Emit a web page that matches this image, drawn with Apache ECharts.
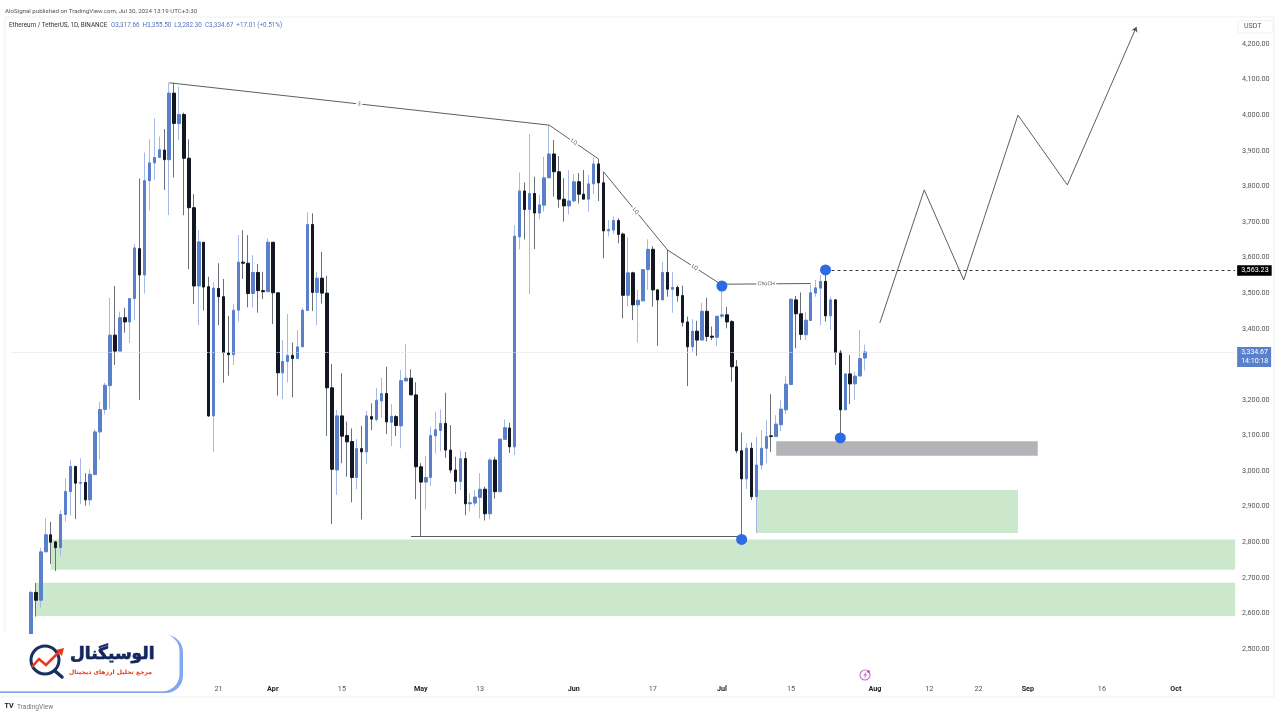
<!DOCTYPE html>
<html>
<head>
<meta charset="utf-8">
<style>html,body{margin:0;padding:0;background:#fff}#c{width:1280px;height:720px}</style>
<script src="https://cdn.jsdelivr.net/npm/echarts@6/dist/echarts.min.js"></script>
</head>
<body>
<div id="c"></div>
<script>
const leadingBlankDays = 4;
const opens = [2507,2659,2637,2773,2821,2801,2785,2878,2942,3013,
2966,2968,2919,2990,3110,3173,3240,3382,3337,3431,
3419,3485,3625,3551,3816,3866,3881,3902,3875,4062,
3976,4002,3879,3740,3520,3643,3518,3155,3513,3490,
3333,3327,3452,3587,3584,3499,3558,3507,3504,3643,
3501,3276,3308,3325,3316,3349,3451,3693,3502,3542,
3500,3234,3003,3155,3100,3083,2982,3063,3054,3153,
3145,3197,3218,3137,3153,3127,3253,3261,3214,3012,
2969,2982,3099,3114,3134,3059,3003,2971,3035,2908,
2910,2926,2949,2880,3031,2942,3089,3121,3068,3658,
3787,3735,3780,3725,3747,3824,3891,3841,3764,3745,
3759,3813,3778,3764,3807,3863,3810,3675,3677,3704,
3666,3494,3557,3467,3478,3566,3623,3509,3481,3558,
3511,3516,3493,3419,3349,3393,3368,3449,3379,3376,
3435,3439,3420,3293,3057,2978,3064,2928,3017,3064,
3099,3097,3130,3172,3243,3481,3442,3383,3423,3500,
3514,3533,3436,3481,3334,3172,3273,3245,3267,3317.66];
const closes = [2659,2637,2773,2821,2800,2785,2878,2943,3013,2966,
2968,2919,2991,3110,3173,3241,3382,3337,3431,3419,
3485,3627,3551,3816,3866,3881,3903,3875,4062,3977,
4002,3879,3740,3520,3644,3517,3155,3514,3490,3333,
3327,3452,3587,3584,3499,3558,3507,3504,3643,3501,
3276,3308,3325,3316,3349,3452,3693,3502,3542,3500,
3234,3005,3155,3098,3082,2982,3063,3054,3155,3146,
3199,3218,3138,3154,3128,3254,3261,3214,3012,2969,
2982,3100,3116,3134,3059,3003,2971,3035,2908,2911,
2927,2949,2880,3031,2942,3090,3122,3068,3660,3787,
3735,3780,3725,3748,3824,3891,3841,3764,3745,3759,
3813,3778,3764,3807,3863,3810,3675,3679,3704,3665,
3494,3557,3467,3480,3566,3623,3509,3481,3558,3511,
3516,3493,3418,3349,3393,3368,3449,3378,3376,3435,
3439,3419,3293,3057,2978,3064,2928,3017,3064,3097,
3097,3132,3174,3244,3483,3442,3384,3424,3501,3515,
3533,3436,3481,3333,3172,3273,3245,3267,3316,3334.67];
const lows = [2490,2591,2616,2773,2739,2719,2760,2858,2875,2865,
2907,2903,2903,2990,3033,3159,3174,3298,3337,3389,
3360,3424,3200,3499,3732,3818,3881,3790,3719,3825,
3930,3719,3567,3469,3410,3451,3152,3054,3410,3248,
3268,3298,3420,3540,3460,3460,3445,3483,3504,3413,
3212,3202,3249,3207,3316,3349,3451,3450,3410,3471,
3099,2851,2933,3022,2984,2912,2949,2864,3020,3115,
3139,3150,3104,3070,3098,3064,3253,3214,2921,2816,
2892,2958,3050,3055,3037,2995,2936,2947,2876,2886,
2902,2867,2861,2864,2923,2942,3089,3051,3045,3623,
3651,3497,3624,3708,3729,3824,3771,3740,3701,3721,
3755,3752,3764,3729,3778,3759,3598,3659,3666,3640,
3429,3462,3424,3361,3478,3509,3462,3352,3481,3490,
3445,3476,3406,3239,3335,3324,3368,3364,3368,3351,
3429,3401,3251,3050,2808,2950,2919,2825,3003,3022,
3054,3097,3112,3160,3243,3345,3368,3368,3423,3490,
3410,3420,3396,3298,3094,3172,3188,3200,3267,3282.3];
const highs = [2664,2686,2784,2868,2857,2803,2890,2980,3031,3014,
3036,2994,3005,3118,3195,3248,3487,3520,3448,3459,
3485,3638,3822,3895,3932,3991,3940,3961,4091,4091,
4080,4007,3932,3778,3677,3643,3546,3531,3584,3540,
3436,3469,3663,3677,3663,3607,3582,3560,3654,3643,
3501,3368,3441,3361,3396,3459,3727,3724,3560,3616,
3549,3301,3172,3275,3139,3120,3090,3127,3169,3190,
3233,3262,3293,3188,3157,3284,3357,3286,3249,3022,
3042,3125,3167,3173,3220,3129,3040,3057,3053,2938,
2947,2994,2956,3036,3040,3090,3145,3136,3691,3839,
3811,3947,3827,3776,3883,3972,3930,3885,3823,3846,
3835,3837,3846,3832,3882,3877,3841,3705,3715,3710,
3670,3657,3560,3509,3566,3651,3632,3512,3588,3621,
3559,3521,3521,3434,3427,3422,3473,3487,3406,3435,
3527,3462,3424,3312,3108,3078,3080,3096,3115,3143,
3216,3157,3200,3267,3483,3492,3502,3448,3523,3537,
3551,3563.23,3490,3483,3340,3273,3326,3279,3396,3355.5];

const tickDates = ['2024-03-21','2024-04-01','2024-04-15','2024-05-01','2024-05-13','2024-06-01','2024-06-17','2024-07-01','2024-07-15','2024-08-01','2024-08-12','2024-08-22','2024-09-01','2024-09-16','2024-10-01'];
const tickLabels = ['21','Apr','15','May','13','Jun','17','Jul','15','Aug','12','22','Sep','16','Oct'];
const monthTicks = ['Apr','May','Jun','Jul','Aug','Sep','Oct'];

// drawn trend segments: [start day index, start price, end day index, end price, label]
const trendSegments = [
  [32, 4091, 109, 3972, '3'],
  [109, 3972, 119, 3877, 'LQ'],
  [120, 3841, 133, 3621, 'LQ'],
  [133, 3621, 144, 3523, 'LQ'],
  [144, 3525, 162, 3527, 'ChoCH'],
  [81, 2817, 148, 2817, '']
];
// projected path after the last candle
const pathDays = [176, 185, 193, 204, 214];
const pathPrices = [3416, 3790, 3537, 4000, 3804];
const pathEnd = [228, 4248];
// pivots marked with a dot: day index and price
const pivotDays = [144, 165, 168, 148];
const pivotPrices = [3520, 3565, 3093, 2808];
// zones: [first day, last day, top price, bottom price, colour name]
const zones = [
  [5, 248, 2686, 2593, 'demand'],
  [8, 248, 2808, 2723, 'demand'],
  [151, 204, 2947, 2826, 'demand'],
  [155, 208, 3084, 3043, 'supply']
];
const lastHigh = 3563.23;
const lastClose = 3334.67;
const countdown = '14:10:18';
const totalDays = 249;

const dates = [];
for (let i = 0; i < totalDays; i++) {
  dates.push(new Date(Date.UTC(2024, 1, 8 + i)).toISOString().slice(0, 10));
}

const blank = ['-', '-', '-', '-'];
const pad = Array.from({length: leadingBlankDays}, () => blank);
const wickRows = pad.concat(opens.map((o, i) => [o, closes[i], lows[i], highs[i]]));
const bodyRows = pad.concat(opens.map((o, i) => [o, closes[i], Math.min(o, closes[i]), Math.max(o, closes[i])]));

const UP = '#5a80cc', DOWN = '#131722';
const zoneColors = {demand: '#cce8cc', supply: '#b3b3b8'};
const LINE = '#4a4c52';

const chart = echarts.init(document.getElementById('c'), null, {renderer: 'canvas'});

const panel = '#eef0f4';
const tickFont = 'Roboto, "Liberation Sans", sans-serif';
const graphics = [
  {type:'line', silent:true, z:1, shape:{x1:5,y1:17,x2:1274,y2:17}, style:{stroke:panel,lineWidth:1}},
  {type:'line', silent:true, z:1, shape:{x1:5,y1:17,x2:5,y2:632}, style:{stroke:panel,lineWidth:1}},
  {type:'line', silent:true, z:1, shape:{x1:1274,y1:17,x2:1274,y2:697}, style:{stroke:panel,lineWidth:1}},
  {type:'line', silent:true, z:1, shape:{x1:0,y1:697,x2:1274,y2:697}, style:{stroke:panel,lineWidth:1}},
  {type:'text', silent:true, z:20, x:5, y:8, style:{text:'AloSignal published on TradingView.com, Jul 30, 2024 13:19 UTC+3:30', font:'6.15px '+tickFont, fill:'#555'}},
  {type:'text', silent:true, z:20, x:9, y:22, style:{text:'Ethereum / TetherUS, 1D, BINANCE', font:'6.35px '+tickFont, fill:'#333'}},
  {type:'text', silent:true, z:20, x:111, y:22, style:{text:'O3,317.66  H3,355.50  L3,282.30  C3,334.67  +17.01 (+0.51%)', font:'6.3px '+tickFont, fill:'#4f74bf'}},
  {type:'rect', silent:true, z:20, shape:{x:1238,y:20.5,width:35,height:12.5,r:2}, style:{fill:'#fff',stroke:'#eef0f4'}},
  {type:'text', silent:true, z:21, x:1244,y:23, style:{text:'USDT', font:'7px '+tickFont, fill:'#555'}},
  // brand badge
  {type:'rect', silent:true, z:30, shape:{x:-30,y:635,width:213,height:58,r:17}, style:{fill:'#82a8f2'}},
  {type:'rect', silent:true, z:31, shape:{x:-30,y:634,width:209.5,height:57.3,r:17}, style:{fill:'#ffffff'}},
  {type:'circle', silent:true, z:32, shape:{cx:45,cy:660,r:14}, style:{fill:'#fff',stroke:'#16305f',lineWidth:3}},
  {type:'line', silent:true, z:32, shape:{x1:55,y1:671,x2:62,y2:677}, style:{stroke:'#16305f',lineWidth:3.5,lineCap:'round'}},
  {type:'polyline', silent:true, z:33, shape:{points:[[32,667],[39,659],[46,665],[60,651]]}, style:{stroke:'#e8391f',lineWidth:2.6,fill:null}},
  {type:'polygon', silent:true, z:33, shape:{points:[[56,650],[64,648],[62,656]]}, style:{fill:'#e8391f'}},
  {type:'text', silent:true, z:33, x:70,y:646, style:{text:'الوسیگنال', font:'bold 17px "DejaVu Sans"', fill:'#14265f', stroke:'#14265f', lineWidth:0.7}},
  {type:'text', silent:true, z:33, x:69,y:669, style:{text:'مرجع تحلیل ارزهای دیجیتال', font:'bold 6.1px "DejaVu Sans"', fill:'#e8391f'}},
  // TradingView footer
  {type:'text', silent:true, z:20, x:4.5,y:703, style:{text:'TV', font:'bold 7px '+tickFont, fill:'#131722'}},
  {type:'text', silent:true, z:20, x:17,y:703.5, style:{text:'TradingView', font:'6.6px '+tickFont, fill:'#777'}},
  // event marker
  {type:'circle', silent:true, z:20, shape:{cx:865,cy:675,r:5}, style:{fill:'#fff',stroke:'#c37bdc',lineWidth:1.2}},
  {type:'polygon', silent:true, z:21, shape:{points:[[866.5,671.5],[863,675.5],[865,675.5],[864,678.5],[867.5,674.5],[865.5,674.5]]}, style:{fill:'#c37bdc'}},
  {type:'circle', silent:true, z:22, shape:{cx:868.5,cy:671.5,r:1.3}, style:{fill:'#f0335e'}}
];

chart.setOption({
  animation: false,
  backgroundColor: '#ffffff',
  grid: {left: 8.8, width: 1228.8, top: 8.41, height: 676.18, containLabel: false},
  xAxis: {
    type: 'category',
    data: dates,
    boundaryGap: true,
    axisLine: {show: false},
    axisTick: {show: false},
    splitLine: {show: false},
    axisLabel: {
      margin: 1,
      hideOverlap: false,
      fontFamily: tickFont,
      fontSize: 7.2,
      color: '#555',
      interval: (i, v) => tickDates.includes(v),
      formatter: v => {
        const l = tickLabels[tickDates.indexOf(v)] || '';
        return monthTicks.includes(l) ? '{m|' + l + '}' : l;
      },
      rich: {m: {fontFamily: tickFont, fontSize: 7.2, fontWeight: 'bold', color: '#222'}}
    }
  },
  yAxis: {
    type: 'value',
    position: 'right',
    min: 2400, max: 4300, interval: 100,
    scale: true,
    axisLine: {show: false},
    axisTick: {show: false},
    splitLine: {show: false},
    axisLabel: {
      inside: false, margin: 4.5,
      fontFamily: tickFont, fontSize: 7.2, color: '#555',
      showMinLabel: false, showMaxLabel: false,
      formatter: v => v.toLocaleString('en-US', {minimumFractionDigits: 2, maximumFractionDigits: 2})
    }
  },
  series: [
    {
      type: 'line', data: [], silent: true, z: 1, symbol: 'none',
      markArea: {
        silent: true, z: 1,
        data: zones.map(z => [
          {coord: [z[0], z[2]], itemStyle: {color: zoneColors[z[4]], opacity: 1}},
          {coord: [z[1], z[3]]}
        ])
      }
    },
    {
      type: 'candlestick', name: 'wicks', data: wickRows, barWidth: 1, z: 2, silent: true,
      itemStyle: {color: '#a4b9e6', color0: '#6b6e76', borderColor: '#a4b9e6', borderColor0: '#6b6e76', borderColorDoji: '#a4b9e6', borderWidth: 1}
    },
    {
      type: 'candlestick', name: 'bodies', data: bodyRows, barWidth: 3, z: 3, silent: true,
      itemStyle: {color: UP, color0: DOWN, borderColor: UP, borderColor0: DOWN, borderColorDoji: UP, borderWidth: 1}
    },
    {
      type: 'line', name: 'projection', z: 6, silent: true, symbol: 'none',
      data: dates.map((d, i) => { const k = pathDays.indexOf(i); return k >= 0 ? pathPrices[k] : null; }),
      connectNulls: true,
      lineStyle: {color: LINE, width: 0.9},
      markLine: {
        silent: true, z: 6, symbol: ['none', 'arrow'], symbolSize: 5, animation: false,
        lineStyle: {color: LINE, width: 0.9, type: 'solid'},
        label: {show: false},
        data: [[
          {coord: [pathDays[pathDays.length - 1], pathPrices[pathPrices.length - 1]]},
          {coord: pathEnd}
        ]]
      }
    },
    {
      type: 'line', name: 'annotations', data: [], z: 7, silent: true, symbol: 'none',
      markLine: {
        silent: true, z: 7, symbol: 'none', animation: false,
        data: trendSegments.map(s => [
          {
            coord: [s[0], s[1]],
            lineStyle: {color: LINE, width: 0.9, type: 'solid'},
            label: {show: !!s[4], position: 'insideMiddle', verticalAlign: 'middle', formatter: s[4], fontSize: 5.4, fontFamily: tickFont, color: '#555',
              backgroundColor: '#fff', padding: [0.5, 1.5], distance: 0}
          },
          {coord: [s[2], s[3]]}
        ]).concat([
          [
            {coord: [165, lastHigh], lineStyle: {color: '#222', width: 0.9, type: [3, 3]},
              label: {show: true, position: 'end', distance: 2, formatter: lastHigh.toLocaleString('en-US', {minimumFractionDigits: 2}),
                color: '#fff', backgroundColor: '#000', fontSize: 7.2, fontFamily: tickFont, padding: [2, 3, 1.5, 4]}},
            {coord: [248, lastHigh]}
          ],
          [
            {coord: [0, lastClose], lineStyle: {color: '#dfe1e6', width: 1, type: 'dotted'},
              label: {show: true, position: 'end', distance: 2, offset: [0, 5], formatter: lastClose.toLocaleString('en-US', {minimumFractionDigits: 2}) + '\n' + countdown,
                color: '#fff', backgroundColor: '#5a80cc', fontSize: 7, lineHeight: 8.5, fontFamily: tickFont, padding: [1.5, 3, 1.5, 4]}},
            {coord: [248, lastClose]}
          ]
        ])
      },
      markPoint: {
        silent: true, z: 8, symbol: 'circle', symbolSize: 11,
        itemStyle: {color: '#2f6ae6'},
        label: {show: false},
        data: pivotDays.map((d, i) => ({coord: [d, pivotPrices[i]]}))
      }
    }
  ],
  graphic: graphics
});
</script>
</body>
</html>
